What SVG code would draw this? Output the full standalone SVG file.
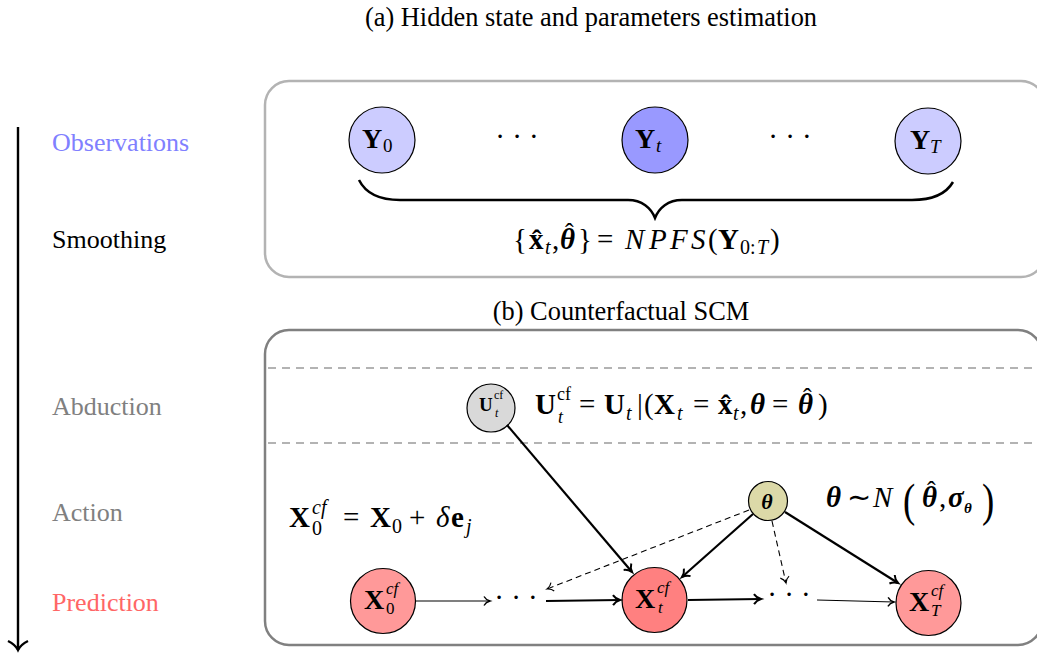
<svg xmlns="http://www.w3.org/2000/svg" width="1037" height="653" viewBox="0 0 1037 653">
  <style>
    text { font-family: "Liberation Serif", "Times New Roman", serif; fill: #000; }
    .title { font-size: 26.4px; text-anchor: middle; }
    .step { font-size: 26px; }
    .m { font-size: 29px; }
    .s { font-size: 20px; }
    .ss { font-size: 18px; }
    .b { font-weight: bold; }
    .i { font-style: italic; }
    .bi { font-weight: bold; font-style: italic; }
    .hat { font-size: 26px; font-weight: normal; font-style: normal; }
    .node { stroke: #000; stroke-width: 1.2; }
    .edge { fill: none; stroke: #000; }
    .thick { stroke-width: 2.2; }
    .thin { stroke-width: 1.2; }
    .dash { stroke-width: 1.1; stroke-dasharray: 6 4; }
    .frameA { fill: none; stroke: #b3b3b3; stroke-width: 2.5; }
    .frameB { fill: none; stroke: #808080; stroke-width: 2.5; }
    .sep { stroke: #b3b3b3; stroke-width: 2; stroke-dasharray: 8 6; }
  </style>
  <defs>
    <marker id="to" markerUnits="userSpaceOnUse" markerWidth="16" markerHeight="16" refX="0" refY="0" orient="auto" overflow="visible">
      <path d="M-7,-5 C-5,-2 -2,-0.6 0,0 C-2,0.6 -5,2 -7,5" fill="none" stroke="#000" stroke-width="2"/>
    </marker>
    <marker id="toThin" markerUnits="userSpaceOnUse" markerWidth="16" markerHeight="16" refX="0" refY="0" orient="auto" overflow="visible">
      <path d="M-6,-4.5 C-4.5,-1.8 -1.8,-0.5 0,0 C-1.8,0.5 -4.5,1.8 -6,4.5" fill="none" stroke="#000" stroke-width="1.4"/>
    </marker>
    <marker id="toDash" markerUnits="userSpaceOnUse" markerWidth="16" markerHeight="16" refX="0" refY="0" orient="auto" overflow="visible">
      <path d="M-6,-4.5 C-4.5,-1.8 -1.8,-0.5 0,0 C-1.8,0.5 -4.5,1.8 -6,4.5" fill="none" stroke="#000" stroke-width="1.1"/>
    </marker>
    <marker id="toBig" markerUnits="userSpaceOnUse" markerWidth="24" markerHeight="24" refX="0" refY="0" orient="auto" overflow="visible">
      <path d="M-9,-10 C-6,-4 -2,-1 0,0 C-2,1 -6,4 -9,10" fill="none" stroke="#000" stroke-width="2.4"/>
    </marker>
  </defs>

  <!-- titles -->
  <text class="title" x="591" y="26">(a) Hidden state and parameters estimation</text>
  <text class="title" x="621" y="320">(b) Counterfactual SCM</text>

  <!-- process timeline -->
  <g id="timeline">
    <line x1="18" y1="127" x2="18" y2="650" stroke="#000" stroke-width="2.4" marker-end="url(#toBig)"/>
    <text class="step" x="52" y="151" style="fill:#8080ff">Observations</text>
    <text class="step" x="52" y="248">Smoothing</text>
    <text class="step" x="52" y="415" style="fill:#808080">Abduction</text>
    <text class="step" x="52" y="521" style="fill:#808080">Action</text>
    <text class="step" x="52" y="611" style="fill:#ff6666">Prediction</text>
  </g>

  <!-- frames -->
  <rect class="frameA" x="265" y="81" width="780" height="196" rx="24" ry="24"/>
  <rect class="frameB" x="265" y="330" width="777" height="315" rx="24" ry="24"/>
  <line class="sep" x1="268" y1="368" x2="1037" y2="368"/>
  <line class="sep" x1="268" y1="443" x2="1037" y2="443"/>

  <!-- (a) observations -->
  <g id="Y0">
    <circle class="node" cx="382" cy="140" r="33" fill="#ccccff"/>
    <text><tspan class="b" x="362" y="148" font-size="28">Y</tspan><tspan x="383" y="152" font-size="19">0</tspan></text>
  </g>
  <g id="dotsA1"><text class="m" x="517" y="146" text-anchor="middle">· · ·</text></g>
  <g id="Yt">
    <circle class="node" cx="655" cy="140" r="33" fill="#9999ff"/>
    <text><tspan class="b" x="635" y="148" font-size="28">Y</tspan><tspan class="i" x="656" y="152" font-size="19">t</tspan></text>
  </g>
  <g id="dotsA2"><text class="m" x="790" y="146" text-anchor="middle">· · ·</text></g>
  <g id="YT">
    <circle class="node" cx="928" cy="141" r="33" fill="#ccccff"/>
    <text><tspan class="b" x="910" y="149" font-size="28">Y</tspan><tspan class="i" x="930" y="153" font-size="19">T</tspan></text>
  </g>

  <!-- smoothing brace and estimate -->
  <g id="smoothing">
    <path d="M359,180 C366,194 380,200 400,200 L628,200 C642,200 651,208 655,218 C659,208 668,200 682,200 L912,200 C932,200 946,194 953,182" fill="none" stroke="#000" stroke-width="2.5"/>
    <text class="m"><tspan x="513" y="249">{</tspan><tspan class="b" x="529" y="249">x̂</tspan><tspan class="s i" x="545" y="254">t</tspan><tspan x="552" y="249">,</tspan><tspan class="bi" x="560" y="249">θ</tspan><tspan class="hat" x="565" y="241">ˆ</tspan><tspan x="578" y="249">}</tspan><tspan x="597" y="249">=</tspan><tspan class="i" x="625 649 670 691" y="249">NPFS</tspan><tspan x="708" y="249">(</tspan><tspan class="b" x="718" y="249">Y</tspan><tspan class="s" x="740" y="254">0:</tspan><tspan class="s i" x="757" y="254">T</tspan><tspan x="770" y="249">)</tspan></text>
  </g>

  <!-- (b) abduction -->
  <g id="U">
    <circle class="node" cx="491" cy="408" r="24" fill="#d9d9d9"/>
    <text><tspan x="479" y="411" font-size="19" class="b">U</tspan><tspan x="494" y="399" font-size="12">cf</tspan><tspan x="495" y="417" font-size="12" class="i">t</tspan></text>
  </g>
  <g id="abductionEq">
    <text class="m"><tspan class="b" x="535" y="414">U</tspan><tspan class="ss" x="557" y="400">cf</tspan><tspan class="ss i" x="558" y="423">t</tspan><tspan x="579" y="414">=</tspan><tspan class="b" x="604" y="414">U</tspan><tspan class="s i" x="626" y="420">t</tspan><tspan x="637" y="414">|</tspan><tspan x="644" y="414">(</tspan><tspan class="b" x="654" y="414">X</tspan><tspan class="s i" x="677" y="420">t</tspan><tspan x="693" y="414">=</tspan><tspan class="b" x="718" y="414">x̂</tspan><tspan class="s i" x="733" y="420">t</tspan><tspan x="740" y="414">,</tspan><tspan class="bi" x="750" y="414">θ</tspan><tspan x="772" y="414">=</tspan><tspan class="bi" x="798" y="414">θ</tspan><tspan class="hat" x="803" y="406">ˆ</tspan><tspan x="818" y="414">)</tspan></text>
  </g>

  <!-- (b) action -->
  <g id="theta">
    <circle class="node" cx="768" cy="501" r="19.5" fill="#dcd9a8"/>
    <text x="767" y="509" font-size="22" class="bi" text-anchor="middle">θ</text>
  </g>
  <g id="thetaEq">
    <text class="m"><tspan class="bi" x="826" y="507">θ</tspan><tspan x="847" y="507">∼</tspan><tspan class="i" x="873" y="507">N</tspan><tspan class="bi" x="922" y="507">θ</tspan><tspan class="hat" x="927" y="499">ˆ</tspan><tspan x="939" y="507">,</tspan><tspan class="bi" x="948" y="507">σ</tspan><tspan class="bi" x="964" y="513" font-size="15">θ</tspan></text>
    <text x="903" y="516" font-size="46" transform="translate(903 0) scale(0.8 1) translate(-903 0)">(</text>
    <text x="982" y="516" font-size="46" transform="translate(982 0) scale(0.8 1) translate(-982 0)">)</text>
  </g>
  <g id="interventionEq">
    <text class="m"><tspan class="b" x="289" y="527">X</tspan><tspan class="s i" x="312" y="514">cf</tspan><tspan class="s" x="312" y="535">0</tspan><tspan x="343" y="527">=</tspan><tspan class="b" x="370" y="527">X</tspan><tspan class="s" x="392" y="533">0</tspan><tspan x="409" y="527">+</tspan><tspan class="i" x="436" y="527">δ</tspan><tspan class="b" x="451" y="527">e</tspan><tspan class="s i" x="466" y="533">j</tspan></text>
  </g>

  <!-- (b) prediction -->
  <g id="X0">
    <circle class="node" cx="383" cy="601" r="32.5" fill="#ff9999"/>
    <text><tspan x="364" y="609" font-size="28" class="b">X</tspan><tspan x="386" y="594" font-size="17" class="i">cf</tspan><tspan x="386" y="614" font-size="17">0</tspan></text>
  </g>
  <g id="dotsB1"><text class="m" x="516" y="607" text-anchor="middle">· · ·</text></g>
  <g id="Xt">
    <circle class="node" cx="654.5" cy="600" r="32.5" fill="#ff8080"/>
    <text><tspan x="635" y="608" font-size="28" class="b">X</tspan><tspan x="657" y="593" font-size="17" class="i">cf</tspan><tspan x="658" y="613" font-size="17" class="i">t</tspan></text>
  </g>
  <g id="dotsB2"><text class="m" x="789" y="604" text-anchor="middle">· · ·</text></g>
  <g id="XT">
    <circle class="node" cx="928.5" cy="603" r="32.5" fill="#ff9999"/>
    <text><tspan x="909" y="611" font-size="28" class="b">X</tspan><tspan x="931" y="596" font-size="17" class="i">cf</tspan><tspan x="931" y="616" font-size="17" class="i">T</tspan></text>
  </g>

  <!-- connectors -->
  <g id="connectors">
    <line class="edge thin" x1="416" y1="601" x2="490" y2="601" marker-end="url(#toThin)"/>
    <line class="edge thick" x1="546" y1="601" x2="620" y2="600" marker-end="url(#to)"/>
    <line class="edge thick" x1="688" y1="600" x2="761" y2="599" marker-end="url(#to)"/>
    <line class="edge thin" x1="817" y1="600" x2="894" y2="602" marker-end="url(#toThin)"/>
    <line class="edge thick" x1="507" y1="425" x2="632" y2="572" marker-end="url(#to)"/>
    <line class="edge thick" x1="753" y1="514" x2="682" y2="577" marker-end="url(#to)"/>
    <line class="edge thick" x1="785" y1="512" x2="898" y2="583" marker-end="url(#to)"/>
    <line class="edge dash" x1="749" y1="510" x2="547" y2="589" marker-end="url(#toDash)"/>
    <line class="edge dash" x1="772" y1="521" x2="786" y2="583" marker-end="url(#toDash)"/>
  </g>
</svg>
